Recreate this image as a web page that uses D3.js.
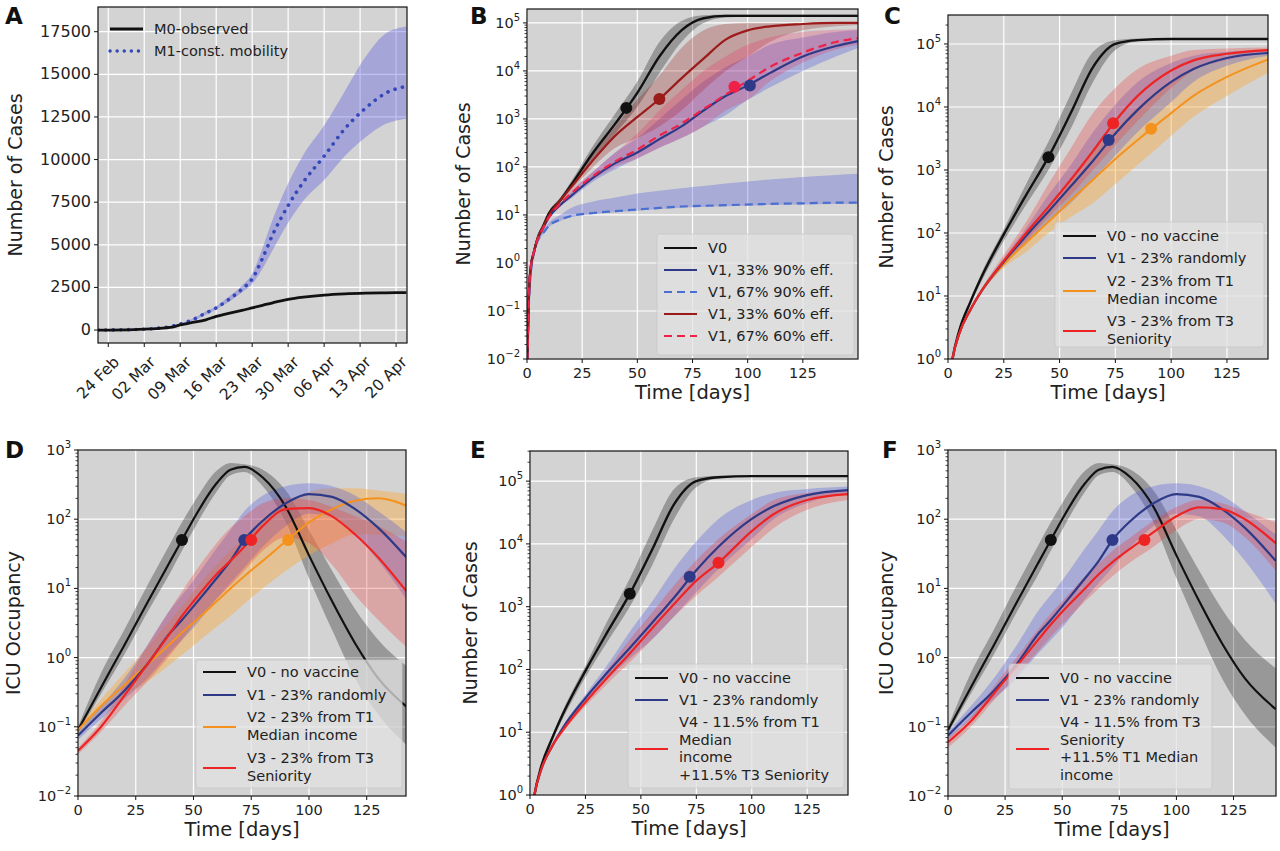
<!DOCTYPE html>
<html><head><meta charset="utf-8">
<script src="https://cdn.jsdelivr.net/npm/d3@7"></script>
<style>body{margin:0;background:#fff}svg{font-family:"DejaVu Sans",sans-serif}</style>
</head><body><svg id="c" width="1280" height="851"></svg>
<script>
// ---------- DATA ----------
// Panel A (days since 22 Feb 2020)
const A_T = [0,7,9,12,14,16,18,21,23,25,28,30,32,34,37,40,44,48,52,56,60];
const A_M0 = [0,30,50,100,150,300,420,600,800,950,1150,1300,1450,1600,1800,1930,2050,2120,2160,2180,2200];
const A_M1 = [0,30,50,120,200,350,550,1000,1300,1700,2400,3000,4200,5600,7300,8700,10200,11800,13000,13900,14300];
const A_M1_lo = [0,30,50,110,180,320,500,900,1200,1550,2200,2700,3600,4700,6300,7600,8800,10200,11300,12100,12400];
const A_M1_hi = [0,30,50,130,220,380,600,1100,1400,1850,2600,3300,4800,6500,8600,10300,12000,14000,16000,17400,17800];
const A_TICKS = ["24 Feb","02 Mar","09 Mar","16 Mar","23 Mar","30 Mar","06 Apr","13 Apr","20 Apr"];
const A_YTICKS = [0,2500,5000,7500,10000,12500,15000,17500];

// Panel B
const B_T = [0,1,2,3,5,7,10,15,20,30,40,50,60,70,80,90,100,110,125,140,150];
const B_V0 = [0.005,0.3,1,1.6,3.5,5.5,11,20,42,200,800,3500,20000,70000,125000,140000,140000,140000,140000,140000,140000];
const B_V0_lo = [0.005,0.3,0.9,1.5,3.2,5,10,18,36,150,500,1800,9000,40000,100000,130000,135000,135000,135000,135000,135000];
const B_V0_hi = [0.005,0.3,1.1,1.7,3.8,6,12,23,50,280,1300,6000,40000,110000,145000,150000,150000,150000,150000,150000,150000];
const B_N1 = [0.005,0.3,1,1.6,3.3,5,9,16,25,60,120,200,380,700,1500,3000,5000,9000,20000,33000,42000];
const B_N1_lo = [0.005,0.3,0.9,1.5,3.1,4.7,8.5,15,22,50,90,150,250,400,700,1200,2500,4500,10000,20000,30000];
const B_N1_hi = [0.005,0.3,1.1,1.7,3.5,5.3,9.5,17,30,80,200,400,1000,2500,6000,12000,20000,35000,50000,65000,70000];
const B_B2 = [0.005,0.2,0.8,1.5,3,4,6,8,9.5,11,12,13,14,15,15.5,16,16.5,17,17.5,18,18];
const B_B2_lo = [0.005,0.2,0.75,1.4,2.8,3.8,5.6,7.5,9,10.4,11.4,12.3,13.3,14.2,14.7,15.2,15.6,16.1,16.6,17,17];
const B_B2_hi = [0.005,0.2,0.85,1.6,3.2,4.5,7,10,14,19,23,28,32,36,40,45,50,55,62,68,72];
const B_R1 = [0.005,0.3,1,1.6,3.4,5.3,10,20,38,140,450,1100,2600,7000,18000,45000,70000,85000,95000,100000,100000];
const B_R1_lo = [0.005,0.3,0.9,1.5,3.2,5,9,18,33,100,250,400,700,1500,4000,10000,20000,40000,70000,85000,90000];
const B_R1_hi = [0.005,0.3,1.1,1.7,3.6,5.6,11,22,44,200,700,2500,8000,30000,70000,95000,100000,100000,100000,100000,100000];
const B_R2 = [0.005,0.3,1,1.6,3.3,5,9,17,28,65,130,230,450,800,1600,3200,6200,12000,24000,40000,48000];
const B_R2_lo = [0.005,0.3,0.9,1.5,3.1,4.7,8.5,15,24,55,100,150,250,400,700,1500,2500,6000,15000,28000,35000];
const B_R2_hi = [0.005,0.3,1.1,1.7,3.5,5.3,9.5,19,33,80,200,500,1500,4000,10000,20000,35000,50000,65000,72000,75000];

// Panels C & E (cases)
const CE_T = [0,2,5,10,15,25,35,45,55,65,75,85,100,110,125,143.5];
const C_V0 = [0.3,1,2.8,8,20,95,400,1600,8000,43000,100000,115000,120000,120000,120000,120000];
const C_V0_lo = [0.25,0.9,2.5,7.2,17,75,280,1000,4500,25000,80000,110000,118000,118000,118000,118000];
const C_V0_hi = [0.35,1.1,3.1,8.8,23,115,600,2800,16000,75000,115000,122000,122000,122000,122000,122000];
const C_V1 = [0.3,1,2.5,6,12,35,90,220,550,1400,3800,9000,25000,40000,60000,72000];
const C_V1_lo = [0.3,1,2.4,5.5,11,30,70,150,300,700,1700,4000,12000,25000,45000,65000];
const C_V1_hi = [0.3,1,2.6,6.5,13,40,120,400,1200,4000,11000,25000,50000,65000,75000,82000];
const C_V2 = [0.3,1,2.5,6,12,32,70,150,330,700,1500,3000,8000,15000,30000,57000];
const C_V2_lo = [0.3,1,2.4,5.5,11,28,50,100,180,300,600,1200,3500,7000,15000,35000];
const C_V2_hi = [0.3,1,2.6,6.5,13,38,100,250,700,2000,4500,10000,25000,40000,55000,70000];
const C_V3 = [0.3,1,2.5,6,12,36,100,260,700,2000,6000,15000,38000,55000,70000,80000];
const C_V3_lo = [0.3,1,2.4,5.5,11,32,75,180,400,1000,2500,6000,20000,38000,55000,72000];
const C_V3_hi = [0.3,1,2.6,6.5,13,45,150,600,2200,8000,20000,40000,65000,80000,85000,88000];
const E_V4 = [0.3,1,2.5,6,11,30,75,180,450,1100,2600,5000,16000,30000,50000,62000];
const E_V4_lo = [0.3,1,2.4,5.5,10,26,60,130,300,700,1500,3000,9000,18000,35000,50000];
const E_V4_hi = [0.3,1,2.6,6.5,12,35,100,300,800,2200,5500,12000,30000,50000,65000,72000];

// Panels D & F (ICU)
const DF_T = [0,10,20,30,40,45,50,60,66,72,80,90,100,110,120,130,143.5];
const D_V0 = [0.09,0.37,1.5,6.2,25,50,100,330,520,570,400,150,30,6.5,1.6,0.5,0.18];
const D_V0_lo = [0.08,0.3,1.1,4.5,17,35,70,250,430,480,300,90,14,2.5,0.5,0.15,0.05];
const D_V0_hi = [0.1,0.6,2.5,11,45,90,170,500,650,620,520,260,70,18,5,1.8,0.7];
const D_V1 = [0.075,0.16,0.33,0.8,2.3,3.5,5.5,14,25,50,95,170,230,210,140,75,25];
const D_V1_lo = [0.065,0.13,0.25,0.5,1.2,1.8,2.7,7,12,20,40,80,120,110,60,25,6];
const D_V1_hi = [0.085,0.2,0.5,1.5,5,8,13,38,70,130,220,300,330,300,220,130,60];
const D_V2 = [0.09,0.2,0.4,0.8,1.6,2.3,3.2,6.5,10,15,25,48,90,140,185,200,150];
const D_V2_lo = [0.08,0.15,0.28,0.45,0.8,1.1,1.5,2.8,4,6,10,18,30,45,60,60,55];
const D_V2_hi = [0.1,0.25,0.6,1.4,3.5,5.5,9,22,35,55,100,170,250,280,280,260,230];
const D_V3 = [0.045,0.1,0.28,0.8,2.3,4,6.5,16,25,40,80,140,145,110,60,28,8];
const D_V3_lo = [0.04,0.085,0.2,0.45,1.1,1.8,3,7,11,18,35,55,45,22,8,3.5,1.3];
const D_V3_hi = [0.05,0.12,0.4,1.5,5,9,16,45,75,110,170,200,190,150,110,80,45];
const F_V4 = [0.06,0.12,0.3,0.75,1.9,3,4.6,10,16,24,38,65,110,148,140,100,45];
const F_V4_lo = [0.05,0.1,0.24,0.55,1.3,2,3,6.5,10,15,24,40,70,100,90,55,18];
const F_V4_hi = [0.07,0.14,0.38,1,2.7,4.3,6.5,15,23,35,55,95,150,190,170,130,90];

const DAY_TICKS = [0,25,50,75,100,125];

// ---------- STYLE ----------
const COL = {black:"#111", navy:"#2e3a87", blue:"#4a6fd0", dred:"#9b1b1b", crim:"#ef2146", orange:"#f5921e", red:"#ee2424"};
const BAND = {gray:"rgba(0,0,0,0.28)", blue:"rgba(80,90,220,0.33)", red:"rgba(235,60,60,0.3)", dred:"rgba(150,30,30,0.28)", orange:"rgba(250,170,60,0.42)", crim:"rgba(235,40,90,0.25)"};

const svg = d3.select("#c");
function sup(sel, e){ sel.text("10"); sel.append("tspan").attr("dy",-7).attr("font-size","10px").text(e<0?"\u2212"+(-e):e); }

function panel(p){
  const g = svg.append("g");
  const x = p.x; const y = p.y;
  g.append("rect").attr("x",p.L).attr("y",p.T).attr("width",p.R-p.L).attr("height",p.B-p.T).attr("fill","#d3d3d3");
  const clipId = "clip"+p.letter;
  svg.append("clipPath").attr("id",clipId).append("rect").attr("x",p.L).attr("y",p.T).attr("width",p.R-p.L).attr("height",p.B-p.T);
  p.xt.forEach(v=>g.append("line").attr("x1",x(v)).attr("x2",x(v)).attr("y1",p.T).attr("y2",p.B).attr("stroke","#fff").attr("stroke-width",1.2));
  p.yt.forEach(v=>g.append("line").attr("y1",y(v)).attr("y2",y(v)).attr("x1",p.L).attr("x2",p.R).attr("stroke","#fff").attr("stroke-width",1.2));
  const pg = g.append("g").attr("clip-path",`url(#${clipId})`);
  p.series.forEach(s=>{
    if(!s.lo) return;
    const area = d3.area().x((d,i)=>x(s.t[i])).y0((d,i)=>y(s.lo[i])).y1((d,i)=>y(s.hi[i])).curve(d3.curveMonotoneX);
    pg.append("path").attr("d",area(s.t)).attr("fill",s.band).attr("stroke","none");
  });
  p.series.forEach(s=>{
    const line = d3.line().x((d,i)=>x(s.t[i])).y((d,i)=>y(s.v[i])).curve(d3.curveMonotoneX);
    pg.append("path").attr("d",line(s.t)).attr("fill","none").attr("stroke",s.color).attr("stroke-width",s.w||2).attr("stroke-dasharray",s.dash||null).attr("stroke-linecap",s.cap||"butt");
  });
  (p.dots||[]).forEach(d=>pg.append("circle").attr("cx",x(d[0])).attr("cy",y(d[1])).attr("r",6).attr("fill",d[2]));
  g.append("rect").attr("x",p.L).attr("y",p.T).attr("width",p.R-p.L).attr("height",p.B-p.T).attr("fill","none").attr("stroke","#111").attr("stroke-width",1.2);
  p.xt.forEach((v,i)=>{
    g.append("line").attr("x1",x(v)).attr("x2",x(v)).attr("y1",p.B).attr("y2",p.B+4).attr("stroke","#111");
    if(p.xlab){
      g.append("text").attr("transform",`translate(${x(v)+4},${p.B+12}) rotate(-45)`).attr("text-anchor","end").attr("dominant-baseline","hanging").attr("font-size","15.5px").attr("fill","#222").text(p.xlab[i]);
    } else {
      g.append("text").attr("x",x(v)).attr("y",p.B+19).attr("text-anchor","middle").attr("font-size","14.5px").attr("fill","#222").text(v);
    }
  });
  if(p.log){
    const [a,b] = y.domain();
    for(let e=Math.floor(Math.log10(a)); e<=Math.ceil(Math.log10(b)); e++){
      for(let k=2;k<10;k++){ const v=k*Math.pow(10,e); if(v>a && v<b) g.append("line").attr("x1",p.L-2.5).attr("x2",p.L).attr("y1",y(v)).attr("y2",y(v)).attr("stroke","#111").attr("stroke-width",0.8); }
    }
  }
  p.yt.forEach(v=>{
    g.append("line").attr("x1",p.L-4).attr("x2",p.L).attr("y1",y(v)).attr("y2",y(v)).attr("stroke","#111");
    const t = g.append("text").attr("x",p.L-7).attr("y",y(v)+5).attr("text-anchor","end").attr("font-size",p.log?"14.5px":"16px").attr("fill","#222");
    if(p.log) sup(t, Math.round(Math.log10(v))); else t.text(v);
  });
  g.append("text").attr("transform",`translate(${p.ylx},${(p.T+p.B)/2}) rotate(-90)`).attr("text-anchor","middle").attr("font-size","19px").attr("fill","#222").text(p.ylabel);
  if(p.xlabel) g.append("text").attr("x",(p.L+p.R)/2).attr("y",p.B+40).attr("text-anchor","middle").attr("font-size","19.5px").attr("fill","#222").text(p.xlabel);
  g.append("text").attr("x",p.lx).attr("y",p.ly).attr("font-size","23px").attr("font-weight","bold").attr("fill","#111").text(p.letter);
  const lg = p.legend;
  if(lg.box) g.append("rect").attr("x",lg.box[0]).attr("y",lg.box[1]).attr("width",lg.box[2]).attr("height",lg.box[3]).attr("rx",3).attr("fill","rgba(225,225,225,0.75)").attr("stroke","rgba(200,200,200,0.8)");
  lg.items.forEach(it=>{
    g.append("line").attr("x1",lg.lx).attr("x2",lg.lx+33).attr("y1",it.y).attr("y2",it.y).attr("stroke",it.color).attr("stroke-width",it.lw||2.2).attr("stroke-dasharray",it.dash||null).attr("stroke-linecap",it.cap||"butt");
    it.text.forEach((tx,j)=>g.append("text").attr("x",lg.lx+44).attr("y",it.ty+j*17.5).attr("font-size","14.5px").attr("fill","#222").text(tx));
  });
}

// ---------- PANELS ----------
const d0 = new Date(2020,1,22);
const toDate = t => d3.timeDay.offset(d0, t);
const xA = d3.scaleTime().domain([d0, new Date(2020,3,22,3)]).range([98,407]);
const yA = d3.scaleLinear().domain([-760,18950]).range([343,7]);
const aTickDates = d3.range(0,9).map(i=>toDate(2+7*i));
panel({letter:"A",lx:5,ly:24,L:98,R:407,T:7,B:343,x:xA,y:yA,xt:aTickDates,xlab:A_TICKS,yt:A_YTICKS,ylabel:"Number of Cases",ylx:22,
  series:[
    {t:A_T.map(toDate),v:A_M1,lo:A_M1_lo,hi:A_M1_hi,band:"rgba(90,90,220,0.38)",color:"#3548b8",w:3.6,dash:"0.1 7.5",cap:"round"},
    {t:A_T.map(toDate),v:A_M0,color:"#111",w:2.8}
  ],
  legend:{lx:110,items:[{y:29,ty:34,color:"#111",lw:2.8,text:["M0-observed"]},{y:51,ty:56,color:"#3548b8",lw:3.4,dash:"0.1 7",cap:"round",text:["M1-const. mobility"]}]}
});

const xB = d3.scaleLinear().domain([0,150]).range([527,858]);
const yB = d3.scaleLog().domain([0.01,Math.pow(10,5.29)]).range([359,9]);
panel({letter:"B",lx:470,ly:24,L:527,R:858,T:9,B:359,x:xB,y:yB,log:true,xt:DAY_TICKS,yt:[1e-2,1e-1,1,10,100,1e3,1e4,1e5],ylabel:"Number of Cases",ylx:470,xlabel:"Time [days]",
  series:[
    {t:B_T,v:B_V0,lo:B_V0_lo,hi:B_V0_hi,band:BAND.gray,color:COL.black,w:2.4},
    {t:B_T,v:B_N1,lo:B_N1_lo,hi:B_N1_hi,band:BAND.blue,color:COL.navy,w:2.2},
    {t:B_T,v:B_B2,lo:B_B2_lo,hi:B_B2_hi,band:BAND.blue,color:COL.blue,w:2.2,dash:"8 5"},
    {t:B_T,v:B_R1,lo:B_R1_lo,hi:B_R1_hi,band:BAND.dred,color:COL.dred,w:2.2},
    {t:B_T,v:B_R2,lo:B_R2_lo,hi:B_R2_hi,band:BAND.crim,color:COL.crim,w:2.2,dash:"8 5"}
  ],
  dots:[[45,1700,COL.black],[60,2600,COL.dred],[94,4700,COL.crim],[101,5000,COL.navy]],
  legend:{lx:664,box:[657,234,197,121],items:[
    {y:248,ty:253,color:COL.black,text:["V0"]},
    {y:270,ty:275,color:COL.navy,text:["V1, 33%  90% eff."]},
    {y:292,ty:297,color:COL.blue,dash:"8 5",text:["V1, 67%  90% eff."]},
    {y:314,ty:319,color:COL.dred,text:["V1, 33%  60% eff."]},
    {y:336,ty:341,color:COL.crim,dash:"8 5",text:["V1, 67%  60% eff."]}]}
});

const xC = d3.scaleLinear().domain([0,143.4]).range([948,1268]);
const yC = d3.scaleLog().domain([1,Math.pow(10,5.46)]).range([359,15]);
panel({letter:"C",lx:884,ly:24,L:948,R:1268,T:15,B:359,x:xC,y:yC,log:true,xt:DAY_TICKS,yt:[1,10,100,1e3,1e4,1e5],ylabel:"Number of Cases",ylx:893,xlabel:"Time [days]",
  series:[
    {t:CE_T,v:C_V0,lo:C_V0_lo,hi:C_V0_hi,band:BAND.gray,color:COL.black,w:2.4},
    {t:CE_T,v:C_V2,lo:C_V2_lo,hi:C_V2_hi,band:BAND.orange,color:COL.orange,w:2},
    {t:CE_T,v:C_V1,lo:C_V1_lo,hi:C_V1_hi,band:BAND.blue,color:COL.navy,w:2.2},
    {t:CE_T,v:C_V3,lo:C_V3_lo,hi:C_V3_hi,band:BAND.red,color:COL.red,w:2.2}
  ],
  dots:[[45,1600,COL.black],[72,3000,COL.navy],[74,5500,COL.red],[91,4500,COL.orange]],
  legend:{lx:1063,box:[1055,222,209,125],items:[
    {y:236,ty:241,color:COL.black,text:["V0 - no vaccine"]},
    {y:258,ty:263,color:COL.navy,text:["V1 - 23% randomly"]},
    {y:291,ty:286,color:COL.orange,text:["V2 - 23% from T1","Median income"]},
    {y:331,ty:326,color:COL.red,text:["V3 - 23% from T3","Seniority"]}]}
});

const xD = d3.scaleLinear().domain([0,142]).range([78,406]);
const yD = d3.scaleLog().domain([0.01,1000]).range([796,450]);
const icuSeries = (v4) => [
  {t:DF_T,v:D_V0,lo:D_V0_lo,hi:D_V0_hi,band:BAND.gray,color:COL.black,w:2.2},
  ...v4
];
panel({letter:"D",lx:5,ly:458,L:78,R:406,T:450,B:796,x:xD,y:yD,log:true,xt:DAY_TICKS,yt:[1e-2,1e-1,1,10,100,1e3],ylabel:"ICU Occupancy",ylx:20,xlabel:"Time [days]",
  series:icuSeries([
    {t:DF_T,v:D_V2,lo:D_V2_lo,hi:D_V2_hi,band:BAND.orange,color:COL.orange,w:2},
    {t:DF_T,v:D_V1,lo:D_V1_lo,hi:D_V1_hi,band:BAND.blue,color:COL.navy,w:2.2},
    {t:DF_T,v:D_V3,lo:D_V3_lo,hi:D_V3_hi,band:BAND.red,color:COL.red,w:2.2}]),
  dots:[[45,50,COL.black],[72,50,COL.navy],[75,50,COL.red],[91,50,COL.orange]],
  legend:{lx:203,box:[196,660,206,128],items:[
    {y:672,ty:677,color:COL.black,text:["V0 - no vaccine"]},
    {y:695,ty:700,color:COL.navy,text:["V1 - 23% randomly"]},
    {y:727,ty:722,color:COL.orange,text:["V2 - 23% from T1","Median income"]},
    {y:768,ty:763,color:COL.red,text:["V3 - 23% from T3","Seniority"]}]}
});

const xE = d3.scaleLinear().domain([0,143.4]).range([530,848]);
const yE = d3.scaleLog().domain([1,Math.pow(10,5.48)]).range([795,451]);
panel({letter:"E",lx:470,ly:458,L:530,R:848,T:451,B:795,x:xE,y:yE,log:true,xt:DAY_TICKS,yt:[1,10,100,1e3,1e4,1e5],ylabel:"Number of Cases",ylx:477,xlabel:"Time [days]",
  series:[
    {t:CE_T,v:C_V0,lo:C_V0_lo,hi:C_V0_hi,band:BAND.gray,color:COL.black,w:2.4},
    {t:CE_T,v:C_V1,lo:C_V1_lo,hi:C_V1_hi,band:BAND.blue,color:COL.navy,w:2.2},
    {t:CE_T,v:E_V4,lo:E_V4_lo,hi:E_V4_hi,band:BAND.red,color:COL.red,w:2.2}],
  dots:[[45,1600,COL.black],[72,3000,COL.navy],[85,5000,COL.red]],
  legend:{lx:635,box:[628,664,216,124],items:[
    {y:678,ty:683,color:COL.black,text:["V0 - no vaccine"]},
    {y:700,ty:705,color:COL.navy,text:["V1 - 23% randomly"]},
    {y:749,ty:727,color:COL.red,text:["V4 - 11.5% from T1","Median","income","+11.5% T3 Seniority"]}]}
});

const xF = d3.scaleLinear().domain([0,143.6]).range([948,1276]);
const yF = d3.scaleLog().domain([0.01,1000]).range([796,450]);
panel({letter:"F",lx:882,ly:458,L:948,R:1276,T:450,B:796,x:xF,y:yF,log:true,xt:DAY_TICKS,yt:[1e-2,1e-1,1,10,100,1e3],ylabel:"ICU Occupancy",ylx:893,xlabel:"Time [days]",
  series:icuSeries([
    {t:DF_T,v:D_V1,lo:D_V1_lo,hi:D_V1_hi,band:BAND.blue,color:COL.navy,w:2.2},
    {t:DF_T,v:F_V4,lo:F_V4_lo,hi:F_V4_hi,band:BAND.red,color:COL.red,w:2.2}]),
  dots:[[45,50,COL.black],[72,50,COL.navy],[86,50,COL.red]],
  legend:{lx:1016,box:[1009,664,203,125],items:[
    {y:678,ty:683,color:COL.black,text:["V0 - no vaccine"]},
    {y:700,ty:705,color:COL.navy,text:["V1 - 23% randomly"]},
    {y:749,ty:727,color:COL.red,text:["V4 - 11.5% from T3","Seniority","+11.5% T1 Median","income"]}]}
});
</script></body></html>
